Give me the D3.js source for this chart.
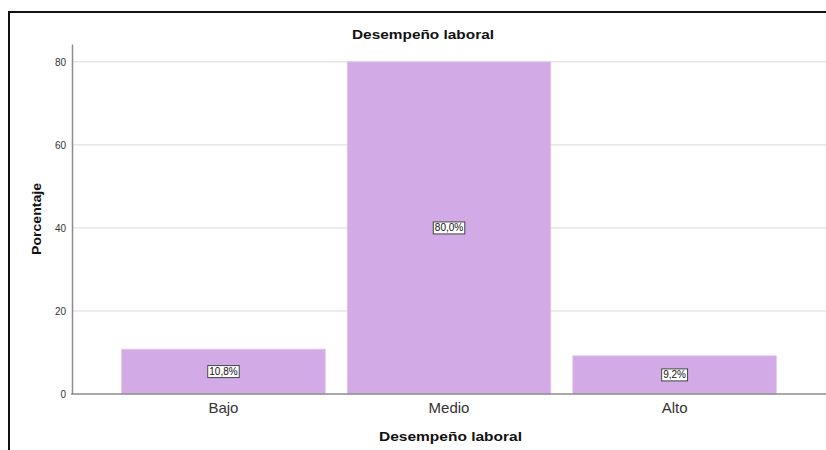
<!DOCTYPE html>
<html>
<head>
<meta charset="utf-8">
<script src="https://cdn.jsdelivr.net/npm/d3@7"></script>
<style>
  html, body { margin: 0; padding: 0; background: #fff; }
  svg { display: block; font-family: Arial, "Liberation Sans", sans-serif; }
</style>
</head>
<body>
<svg id="chart" width="826" height="450"></svg>
<script>
// Categories and percentages for the "Desempeño laboral" distribution
const categories = ["Bajo", "Medio", "Alto"];
const percentages = [10.8, 80.0, 9.2];
const yTicks = [0, 20, 40, 60, 80];

const svg = d3.select("#chart");
const W = 826, H = 450;
const plot = { left: 72, right: 826, top: 44, bottom: 394 };
const FONT = "Arial, 'Liberation Sans', sans-serif";

// Outer frame
svg.append("path")
  .attr("d", `M9,${H} V12 H${W}`)
  .attr("fill", "none")
  .attr("stroke", "#111")
  .attr("stroke-width", 2);

const x = d3.scaleBand()
  .domain(categories)
  .range([plot.left, plot.right])
  .paddingInner(0.0973)
  .paddingOuter(0.22);

const y = d3.scaleLinear()
  .domain([0, 84.3])
  .range([plot.bottom, plot.top]);

// Gridlines
svg.append("g")
  .selectAll("line")
  .data(yTicks.filter(d => d > 0))
  .join("line")
  .attr("x1", plot.left)
  .attr("x2", W)
  .attr("y1", d => y(d))
  .attr("y2", d => y(d))
  .attr("stroke", "#dadada")
  .attr("stroke-width", 1);

// Bars
svg.append("g")
  .selectAll("rect")
  .data(categories)
  .join("rect")
  .attr("x", d => x(d))
  .attr("width", x.bandwidth())
  .attr("y", (d, i) => y(percentages[i]))
  .attr("height", (d, i) => y(0) - y(percentages[i]))
  .attr("fill", "#d2aae5")
  .attr("stroke", "#e3c8f0")
  .attr("stroke-width", 0.8);

// Y axis
const yAxis = d3.axisLeft(y).tickValues(yTicks).tickSize(0).tickPadding(6);
const gy = svg.append("g")
  .attr("transform", `translate(${plot.left},0)`)
  .call(yAxis);
gy.select(".domain").attr("stroke", "#8c8c8c").attr("stroke-width", 1.5);
gy.selectAll("text").attr("font-size", 10).attr("fill", "#333")
  .attr("font-family", FONT);

// X axis
const xAxis = d3.axisBottom(x).tickSize(0).tickPadding(8.5);
const gx = svg.append("g")
  .attr("transform", `translate(0,${plot.bottom})`)
  .call(xAxis);
gx.select(".domain").remove();
gx.append("line")
  .attr("x1", plot.left - 1).attr("x2", W)
  .attr("y1", 0).attr("y2", 0)
  .attr("stroke", "#8c8c8c").attr("stroke-width", 1.5);
gx.selectAll("text").attr("font-size", 15).attr("fill", "#333")
  .attr("font-family", FONT);

// Value labels in boxes
const labels = svg.append("g")
  .selectAll("g")
  .data(categories)
  .join("g")
  .attr("transform", (d, i) => {
    const cx = x(d) + x.bandwidth() / 2;
    const cy = (y(percentages[i]) + y(0)) / 2;
    return `translate(${cx},${cy})`;
  });

labels.append("text")
  .attr("text-anchor", "middle")
  .attr("dy", "0.35em")
  .attr("font-size", 10)
  .attr("fill", "#111")
  .text((d, i) => percentages[i].toFixed(1).replace(".", ",") + "%");

labels.each(function () {
  const g = d3.select(this);
  const b = g.select("text").node().getBBox();
  g.insert("rect", "text")
    .attr("x", b.x - 1.5)
    .attr("y", b.y - 0.5)
    .attr("width", b.width + 3)
    .attr("height", b.height + 1)
    .attr("fill", "#fff")
    .attr("stroke", "#444")
    .attr("stroke-width", 1);
});

// Titles
svg.append("text")
  .attr("x", 423).attr("y", 38.5)
  .attr("text-anchor", "middle")
  .attr("font-size", 13).attr("font-weight", "bold").attr("fill", "#111")
  .attr("textLength", 142).attr("lengthAdjust", "spacingAndGlyphs")
  .text("Desempeño laboral");

svg.append("text")
  .attr("x", 450.5).attr("y", 441)
  .attr("text-anchor", "middle")
  .attr("font-size", 13).attr("font-weight", "bold").attr("fill", "#111")
  .attr("textLength", 143).attr("lengthAdjust", "spacingAndGlyphs")
  .text("Desempeño laboral");

svg.append("text")
  .attr("transform", "translate(40.5,219) rotate(-90)")
  .attr("text-anchor", "middle")
  .attr("font-size", 13).attr("font-weight", "bold").attr("fill", "#111")
  .attr("textLength", 72).attr("lengthAdjust", "spacingAndGlyphs")
  .text("Porcentaje");
</script>
</body>
</html>
